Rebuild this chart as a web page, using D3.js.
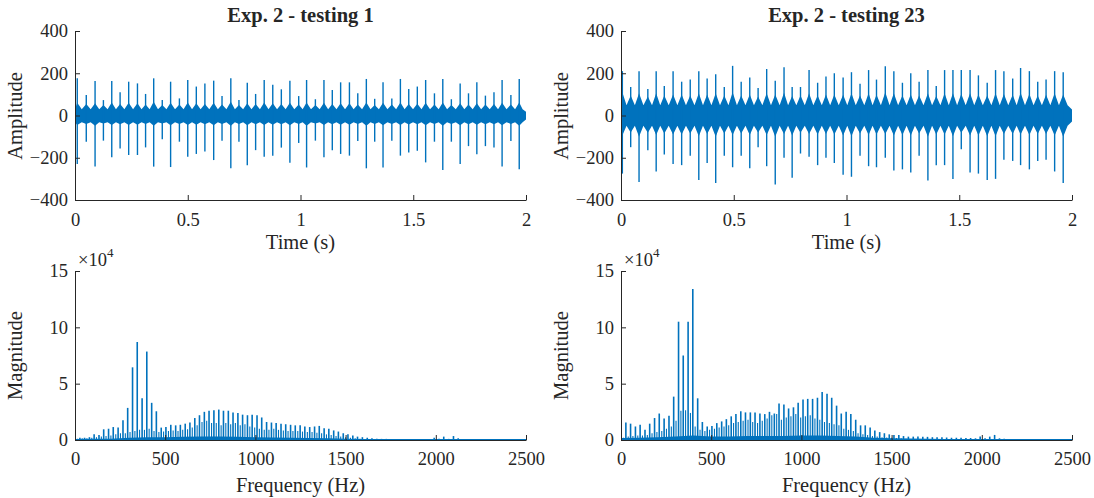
<!DOCTYPE html>
<html><head><meta charset="utf-8">
<script src="https://cdn.jsdelivr.net/npm/d3@7"></script>
<style>
html,body{margin:0;padding:0;background:#fff;}
svg text{font-family:"Liberation Serif","Times New Roman",serif;fill:#262626;}
</style></head>
<body><svg id="c" width="1094" height="498"></svg>
<script>
// ---------------- DATA ----------------
const titles = ["Exp. 2 - testing 1", "Exp. 2 - testing 23"];
const timeTicks = [0, 0.5, 1, 1.5, 2];
const ampTicks = [-400, -200, 0, 200, 400];
const freqTicks = [0, 500, 1000, 1500, 2000, 2500];
const magTicks = [0, 5, 10, 15];

// time-domain impacts: times (s), positive peak, negative peak, ringing envelope
const leftT = [0.010,0.050,0.089,0.126,0.163,0.200,0.238,0.277,0.313,0.349,0.387,0.424,0.463,0.500,0.538,0.576,0.615,0.652,0.691,0.727,0.764,0.801,0.839,0.877,0.915,0.953,0.992,1.027,1.066,1.104,1.141,1.178,1.217,1.254,1.292,1.329,1.366,1.405,1.443,1.480,1.518,1.555,1.594,1.631,1.669,1.708,1.745,1.782,1.820,1.858,1.894,1.933,1.970];
const leftPos = [176,97,163,73,163,110,160,152,102,176,73,160,81,168,137,152,165,92,176,73,155,102,168,145,124,165,92,168,77,168,121,157,157,105,173,79,157,81,173,126,137,168,105,173,77,152,105,157,94,110,168,97,173];
const leftNeg = [-230,-124,-242,-119,-198,-156,-187,-187,-151,-242,-113,-244,-124,-195,-182,-171,-211,-119,-250,-124,-235,-164,-195,-190,-152,-224,-130,-246,-119,-198,-164,-182,-190,-121,-250,-124,-246,-119,-190,-175,-167,-222,-124,-258,-124,-230,-145,-184,-145,-151,-242,-121,-255];
const leftRingHi = [60,55,58,50,62,55,60,58,52,65,50,60,52,62,58,55,60,52,65,50,58,55,62,58,55,60,52,62,50,60,55,58,58,52,62,50,60,52,62,55,56,60,52,62,50,58,52,58,52,55,60,52,62];
const leftRingLo = [-45,-40,-48,-38,-45,-42,-45,-44,-40,-48,-38,-46,-40,-45,-44,-42,-46,-40,-48,-40,-46,-42,-45,-44,-42,-46,-40,-48,-38,-45,-42,-44,-44,-40,-48,-40,-46,-40,-45,-43,-42,-46,-40,-48,-40,-46,-42,-44,-42,-42,-46,-40,-48];
const leftCore = [30, -32];

const rightT = [0.006,0.043,0.080,0.119,0.156,0.192,0.231,0.269,0.307,0.345,0.382,0.420,0.458,0.495,0.533,0.571,0.608,0.646,0.684,0.723,0.759,0.796,0.834,0.872,0.909,0.946,0.985,1.022,1.060,1.098,1.133,1.172,1.210,1.248,1.285,1.322,1.361,1.398,1.435,1.472,1.509,1.548,1.585,1.624,1.661,1.698,1.737,1.772,1.811,1.848,1.885,1.923,1.961];
const rightPos = [210,135,210,125,210,140,210,160,170,210,175,195,135,235,160,180,130,220,165,228,135,135,215,155,185,200,180,205,150,215,170,233,210,155,200,160,215,140,215,215,215,215,190,155,215,210,175,225,210,160,170,210,205];
const rightNeg = [-275,-150,-315,-165,-265,-185,-230,-235,-190,-305,-225,-320,-190,-245,-190,-250,-150,-240,-327,-200,-295,-180,-195,-235,-200,-225,-280,-290,-190,-240,-245,-200,-260,-255,-270,-190,-308,-235,-235,-300,-160,-270,-275,-305,-300,-210,-215,-235,-255,-215,-210,-265,-320];
const rightRingHi = [110,95,105,90,105,95,100,100,95,105,100,105,95,110,95,100,90,105,100,108,92,95,105,95,100,100,98,105,95,105,98,110,105,95,100,95,105,92,105,105,102,105,100,95,105,102,98,108,102,95,98,105,100];
const rightRingLo = [-95,-80,-100,-82,-92,-85,-90,-90,-85,-98,-88,-100,-85,-92,-85,-92,-80,-92,-100,-88,-95,-82,-88,-90,-88,-90,-95,-98,-85,-92,-90,-88,-95,-92,-95,-85,-100,-90,-90,-98,-82,-95,-95,-98,-98,-88,-88,-90,-92,-88,-88,-95,-100];
const rightCore = [48, -48];

// spectra (magnitude in units of 10^4)
const harmF = [27,53,80,106,133,159,186,212,239,266,292,319,345,372,398,425,451,478,504,531,558,584,611,637,664,690,717,743,770,797,823,850,876,903,929,956,982,1009,1035,1062,1089,1115,1142,1168,1195,1221,1248,1274,1301,1328,1354,1381,1407,1434,1460,1487,1513,1540,1566,1593,1620,1646,1673,1699,1726,1752,1779,1805,1832,1859,1885,1912,1938,1965,1991,2018,2044,2071,2098,2124];
const leftHarmM = [0.2,0.2,0.25,0.5,0.45,0.95,1.0,1.15,1.1,1.75,2.85,6.45,8.7,3.7,7.85,3.3,2.55,1.1,1.15,1.35,1.3,1.35,1.45,1.55,1.95,2.2,2.5,2.6,2.65,2.7,2.6,2.6,2.45,2.4,2.25,2.2,2.25,2.2,2.0,1.6,1.55,1.5,1.45,1.4,1.35,1.3,1.3,1.2,1.15,1.2,1.25,1.05,1.0,0.85,0.75,0.6,0.5,0.4,0.3,0.25,0.2,0.15,0.12,0.1,0.1,0.08,0.08,0.08,0.07,0.07,0.07,0.06,0.06,0.06,0.2,0.1,0.3,0.1,0.35,0.15];
const rightHarmM = [1.55,1.45,1.2,1.35,0.9,1.45,1.95,2.35,1.9,2.15,3.85,10.5,7.5,10.5,13.4,3.7,1.6,1.2,1.25,1.5,1.65,1.85,2.1,2.3,2.55,2.45,2.45,2.45,2.35,2.3,2.5,2.35,3.25,3.15,2.8,2.9,3.3,3.6,3.65,3.65,3.75,4.25,4.1,3.75,3.05,2.35,2.5,2.3,1.8,1.3,1.3,1.1,0.85,0.7,0.6,0.5,0.45,0.45,0.35,0.3,0.3,0.3,0.28,0.28,0.25,0.25,0.25,0.22,0.2,0.2,0.2,0.18,0.18,0.15,0.3,0.15,0.3,0.45,0.15,0.1];
const secF = [13,40,66,93,119,146,172,199,226,252,279,305,332,358,385,411,438,465,491,518,544,571,597,624,650,677,704,730,757,783,810,836,863,889,916,942,969,996,1022,1049,1075,1102,1128,1155,1181,1208,1235,1261,1288,1314,1341,1367,1394,1420,1447,1473,1500,1527,1553,1580];
const leftSecM = [0.1,0.15,0.15,0.2,0.25,0.3,0.35,0.4,0.5,0.6,0.6,0.7,0.8,0.9,0.9,1.0,0.8,0.7,0.75,0.8,0.85,0.8,0.9,0.95,1.1,1.3,1.6,1.7,1.5,1.5,1.3,1.5,1.4,1.5,1.3,1.4,1.2,1.1,1.0,0.9,0.9,1.0,0.9,0.85,0.8,0.8,0.8,0.75,0.7,0.7,0.65,0.6,0.5,0.45,0.35,0.3,0.25,0.2,0.15,0.12];
const rightSecM = [0.2,0.3,0.35,0.4,0.4,0.45,0.6,0.7,0.8,1.0,1.2,1.7,2.6,2.65,2.4,1.2,0.9,0.8,0.9,1.0,1.1,1.2,1.3,1.5,1.6,1.7,1.8,1.6,1.5,1.7,1.9,2.2,2.3,1.8,2.0,2.1,2.3,2.0,2.1,2.2,1.9,1.8,1.6,1.5,1.4,1.3,1.0,0.9,0.8,0.6,0.5,0.45,0.35,0.3,0.25,0.22,0.2,0.18,0.15,0.12];
const baseF = [0,100,200,300,400,500,600,700,800,900,1000,1100,1200,1300,1400,1500,1600,1700,1800,1900,2000,2100,2200,2300,2400,2500];
const leftBaseM = [0.08,0.1,0.12,0.2,0.25,0.25,0.28,0.3,0.3,0.28,0.25,0.22,0.2,0.18,0.15,0.1,0.08,0.06,0.05,0.04,0.04,0.04,0.03,0.03,0.03,0.02];
const rightBaseM = [0.18,0.2,0.25,0.3,0.4,0.3,0.3,0.35,0.35,0.35,0.4,0.4,0.35,0.3,0.2,0.15,0.13,0.1,0.08,0.06,0.05,0.04,0.03,0.03,0.03,0.02];

// ---------------- DRAWING ----------------
const BLUE = "#0072BD", AX = "#262626";
const svg = d3.select("#c");
const panels = [
  {x0:75, title:titles[0], T:leftT, P:leftPos, N:leftNeg, RH:leftRingHi, RL:leftRingLo, core:leftCore,
   HM:leftHarmM, SM:leftSecM, BM:leftBaseM},
  {x0:621, title:titles[1], T:rightT, P:rightPos, N:rightNeg, RH:rightRingHi, RL:rightRingLo, core:rightCore,
   HM:rightHarmM, SM:rightSecM, BM:rightBaseM}
];
const PW = 451;
const tickFS = "18.5px", labFS = "20.5px";

function styleAxis(g){
  g.select(".domain").attr("stroke", AX).attr("stroke-width", 1);
  g.selectAll(".tick line").attr("stroke", AX).attr("stroke-width", 1);
  g.selectAll(".tick text").attr("fill", AX).style("font-size", tickFS)
   .style("font-family", '"Liberation Serif","Times New Roman",serif');
}

panels.forEach(p => {
  // ---- time panel ----
  const xT = d3.scaleLinear().domain([0, 2]).range([p.x0, p.x0 + PW]);
  const yT = d3.scaleLinear().domain([-400, 400]).range([200, 31]);
  const gT = svg.append("g");

  // band (continuous vibration) as envelope area
  const env = [{t:0, hi:p.core[0], lo:p.core[1]}];
  p.T.forEach((t, i) => {
    const next = i < p.T.length - 1 ? p.T[i+1] : 2;
    env.push({t:t, hi:p.RH[i], lo:p.RL[i]});
    env.push({t:(t + next) / 2, hi:p.core[0], lo:p.core[1]});
  });
  env.push({t:2, hi:p.core[0] * 0.6, lo:p.core[1] * 0.6});
  gT.append("path").datum(env)
    .attr("d", d3.area().x(d => xT(d.t)).y0(d => yT(d.lo)).y1(d => yT(d.hi)))
    .attr("fill", BLUE);

  // impacts
  gT.selectAll("line.sp").data(p.T).join("line").attr("class","sp")
    .attr("x1", d => xT(d)).attr("x2", d => xT(d))
    .attr("y1", (d,i) => yT(p.N[i])).attr("y2", (d,i) => yT(p.P[i]))
    .attr("stroke", BLUE).attr("stroke-width", 1.4);

  const axB = gT.append("g").attr("transform", `translate(0,200)`)
    .call(d3.axisBottom(xT).tickValues(timeTicks).tickSize(-5).tickSizeOuter(0).tickPadding(13).tickFormat(d3.format("")));
  styleAxis(axB);
  const axL = gT.append("g").attr("transform", `translate(${p.x0},0)`)
    .call(d3.axisLeft(yT).tickValues(ampTicks).tickSize(-5).tickSizeOuter(0).tickPadding(7).tickFormat(d3.format("")));
  styleAxis(axL);

  gT.append("text").attr("x", p.x0 + PW/2).attr("y", 22).attr("text-anchor","middle")
    .style("font-size", labFS).style("font-weight","bold").attr("fill","#000").text(p.title);
  gT.append("text").attr("x", p.x0 + PW/2).attr("y", 249).attr("text-anchor","middle")
    .style("font-size", labFS).text("Time (s)");
  gT.append("text").attr("transform", `translate(${p.x0 - 53},116) rotate(-90)`).attr("text-anchor","middle")
    .style("font-size", labFS).text("Amplitude");

  // ---- spectrum panel ----
  const xF = d3.scaleLinear().domain([0, 2500]).range([p.x0, p.x0 + PW]);
  const yF = d3.scaleLinear().domain([0, 15]).range([440, 271]);
  const gF = svg.append("g");
  const base = baseF.map((f, i) => ({f:f, m:p.BM[i]}));
  gF.append("path").datum(base)
    .attr("d", d3.area().x(d => xF(d.f)).y0(yF(0)).y1(d => yF(d.m)))
    .attr("fill", BLUE);
  gF.selectAll("line.sec").data(secF).join("line").attr("class","sec")
    .attr("x1", d => xF(d)).attr("x2", d => xF(d))
    .attr("y1", yF(0)).attr("y2", (d,i) => yF(p.SM[i]))
    .attr("stroke", BLUE).attr("stroke-width", 1.1);
  gF.selectAll("line.h").data(harmF).join("line").attr("class","h")
    .attr("x1", d => xF(d)).attr("x2", d => xF(d))
    .attr("y1", yF(0)).attr("y2", (d,i) => yF(p.HM[i]))
    .attr("stroke", BLUE).attr("stroke-width", 1.6);
  gF.append("line").attr("x1", xF(0)).attr("x2", xF(2500)).attr("y1", yF(0)-0.5).attr("y2", yF(0)-0.5)
    .attr("stroke", BLUE).attr("stroke-width", 1.2);

  const fB = gF.append("g").attr("transform", `translate(0,440)`)
    .call(d3.axisBottom(xF).tickValues(freqTicks).tickSize(-5).tickSizeOuter(0).tickPadding(12).tickFormat(d3.format("")));
  styleAxis(fB);
  const fL = gF.append("g").attr("transform", `translate(${p.x0},0)`)
    .call(d3.axisLeft(yF).tickValues(magTicks).tickSize(-5).tickSizeOuter(0).tickPadding(7).tickFormat(d3.format("")));
  styleAxis(fL);

  const ex = gF.append("text").attr("x", p.x0 + 3).attr("y", 266).style("font-size", tickFS);
  ex.append("tspan").text("×10");
  ex.append("tspan").attr("dy", -9).style("font-size", "13px").text("4");

  gF.append("text").attr("x", p.x0 + PW/2).attr("y", 492).attr("text-anchor","middle")
    .style("font-size", labFS).text("Frequency (Hz)");
  gF.append("text").attr("transform", `translate(${p.x0 - 53},355.5) rotate(-90)`).attr("text-anchor","middle")
    .style("font-size", labFS).text("Magnitude");
});
</script></body></html>
